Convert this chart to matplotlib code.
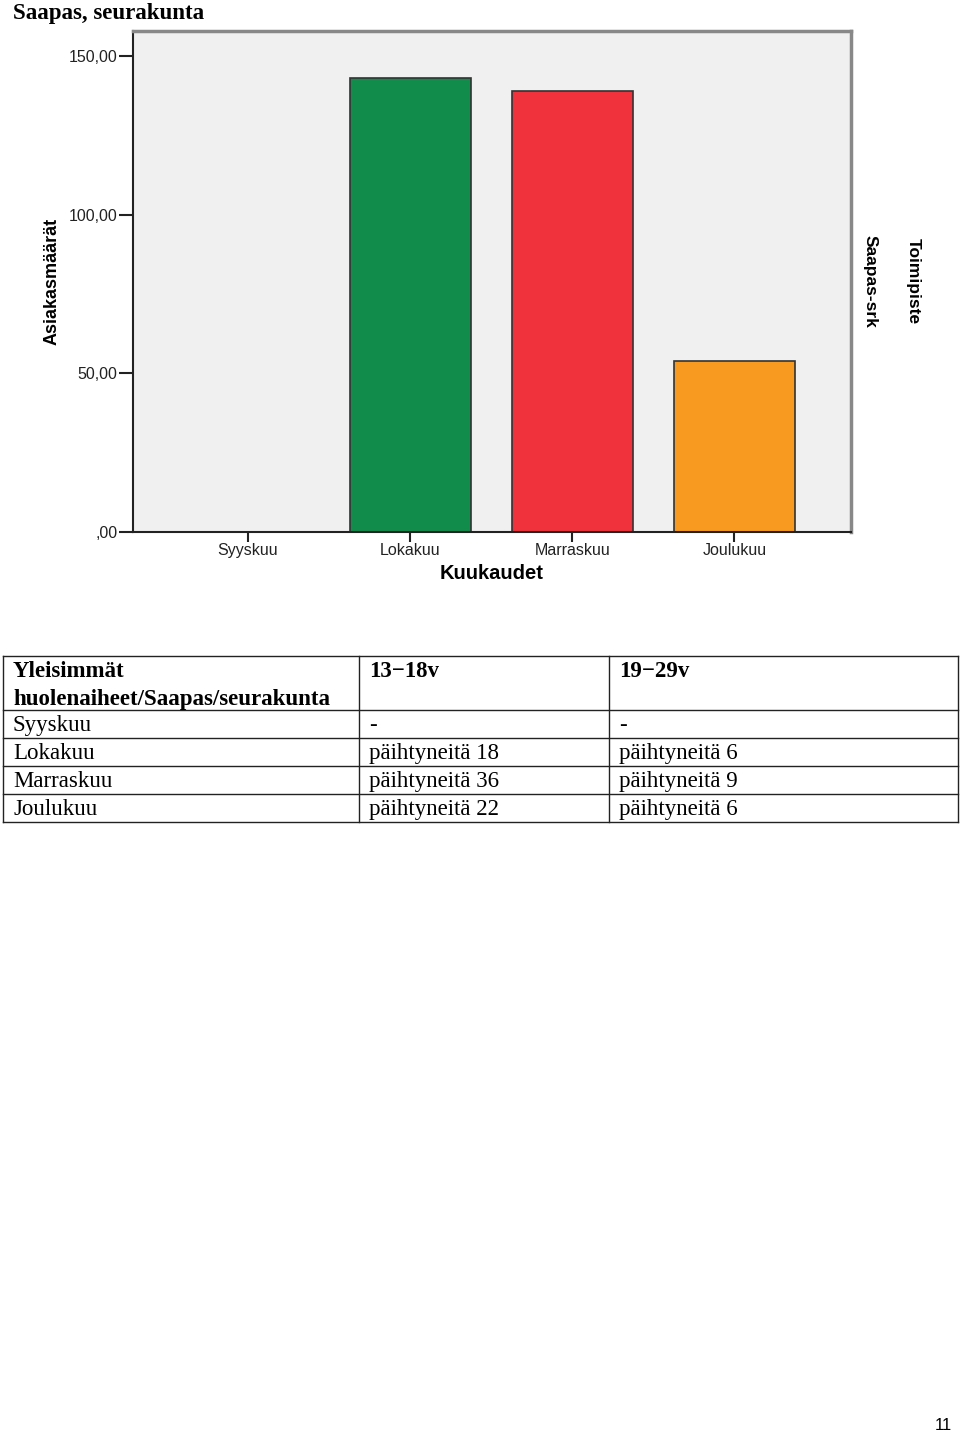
import matplotlib
matplotlib.use("Agg")
import matplotlib.pyplot as plt

months = ["Syyskuu", "Lokakuu", "Marraskuu", "Joulukuu"]
counts = [0, 143, 139, 54]
bar_colors = ["#118C4B", "#118C4B", "#F0323C", "#F89A20"]
yticks = [0, 50, 100, 150]
ytick_labels = [",00", "50,00", "100,00", "150,00"]

table_header = ["Yleisimmät\nhuolenaiheet/Saapas/seurakunta", "13\u221218v", "19\u221229v"]
table_rows = [
    ["Syyskuu", "-", "-"],
    ["Lokakuu", "päihtyneitä 18", "päihtyneitä 6"],
    ["Marraskuu", "päihtyneitä 36", "päihtyneitä 9"],
    ["Joulukuu", "päihtyneitä 22", "päihtyneitä 6"],
]

W, H = 960, 1433
fig = plt.figure(figsize=(W / 100, H / 100), dpi=100)

def px_axes(x0, y0, x1, y1):
    return fig.add_axes([x0 / W, 1 - y1 / H, (x1 - x0) / W, (y1 - y0) / H])

fig.text(13 / W, 1 - 13 / H, "Saapas, seurakunta", family="Liberation Serif",
         fontweight="bold", fontsize=16.5, va="center", ha="left")

ax = px_axes(133, 31, 851, 532)
ax.set_facecolor("#F0F0F0")
x = list(range(len(months)))
ax.bar(x, counts, width=0.747, color=bar_colors, edgecolor="#333333", linewidth=1.2)
ax.set_xlim(-0.71, 3.72)
ax.set_ylim(0, 157.9)
ax.set_yticks(yticks)
ax.set_yticklabels(ytick_labels, family="Liberation Sans", fontsize=11.5)
ax.set_xticks(x)
ax.set_xticklabels(months, family="Liberation Sans", fontsize=11.5)
ax.tick_params(axis="y", direction="out", length=10, width=1.5, pad=1, colors="#222222")
ax.tick_params(axis="x", direction="out", length=7, width=1.5, pad=1, colors="#222222")
for s in ["left", "bottom"]:
    ax.spines[s].set_color("#222222")
    ax.spines[s].set_linewidth(1.5)
for s in ["top", "right"]:
    ax.spines[s].set_color("#888888")
    ax.spines[s].set_linewidth(2.5)
ax.set_xlabel("Kuukaudet", family="Liberation Sans", fontweight="bold", fontsize=14.5, labelpad=4)
ax.set_ylabel("Asiakasmäärät", family="Liberation Sans", fontweight="bold", fontsize=13, labelpad=6)

fig.text(913 / W, 1 - 281 / H, "Toimipiste", family="Liberation Sans", fontweight="bold",
         fontsize=12.5, rotation=-90, ha="center", va="center")
fig.text(870 / W, 1 - 281 / H, "Saapas-srk", family="Liberation Sans", fontweight="bold",
         fontsize=12.5, rotation=-90, ha="center", va="center")

# table
tx = [3, 359, 609, 958]
ty = [656, 710, 738, 766, 794, 822]
tax = px_axes(0, 0, W, H)
tax.set_xlim(0, W)
tax.set_ylim(H, 0)
tax.axis("off")
for yy in ty:
    tax.plot([tx[0], tx[-1]], [yy, yy], color="#222222", lw=1)
for xx in tx:
    tax.plot([xx, xx], [ty[0], ty[-1]], color="#222222", lw=1)
for j, txt in enumerate(table_header):
    tax.text(tx[j] + 10, ty[0] + 5, txt, family="Liberation Serif", fontweight="bold",
             fontsize=16.5, va="top", ha="left", linespacing=1.45)
for i, row in enumerate(table_rows):
    for j, txt in enumerate(row):
        tax.text(tx[j] + 10, (ty[i + 1] + ty[i + 2]) / 2 + 1, txt, family="Liberation Serif",
                 fontsize=16.5, va="center", ha="left")

fig.text(943 / W, 1 - 1425 / H, "11", family="Liberation Sans", fontsize=12, ha="center", va="center")

fig.savefig("out.png", dpi=100)
